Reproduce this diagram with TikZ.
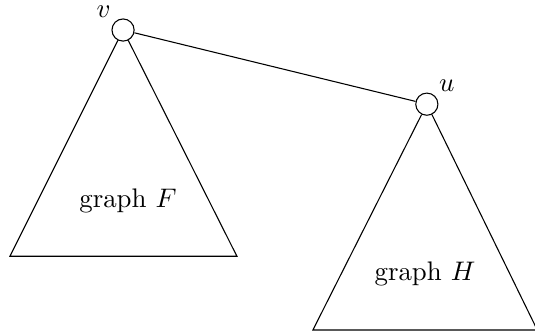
\documentclass[tikz,border=0pt]{standalone}
\usepackage{amsmath}
\usetikzlibrary{positioning}

\begin{document}
\begin{tikzpicture}[
        vertex/.style = {
            draw,
            circle,
            fill = white,
            inner sep = 0pt,
            minimum size = 0.29cm
        },
        every label/.style = {
            inner sep = 1pt
        },
        tag/.style = {
            font = \normalsize
        }
    ]
        \useasboundingbox (0,0) rectangle (7,4.383);

        % the two roots
        \node[vertex, label = {[label distance = 0.5pt]above left:$v$}] (v) at (1.61,3.99) {};
        \node[vertex, label = {[label distance = 0.5pt]above right:$u$}] (u) at (5.585,3.02) {};

        % corners of the two triangles
        \coordinate (Fl) at (0.13,1.03);
        \coordinate (Fr) at (3.10,1.03);
        \coordinate (Hl) at (4.094,0.065);
        \coordinate (Hr) at (7.03,0.065);

        \draw (v) -- (Fl) -- (Fr) -- (v);
        \draw (u) -- (Hl) -- (Hr) -- (u);
        \draw (v) -- (u);

        \node[tag] (F) at (1.674,1.753) {graph $F$};
        \node[tag] (H) at (5.56,0.80) {graph $H$};
    \end{tikzpicture}
\end{document}
